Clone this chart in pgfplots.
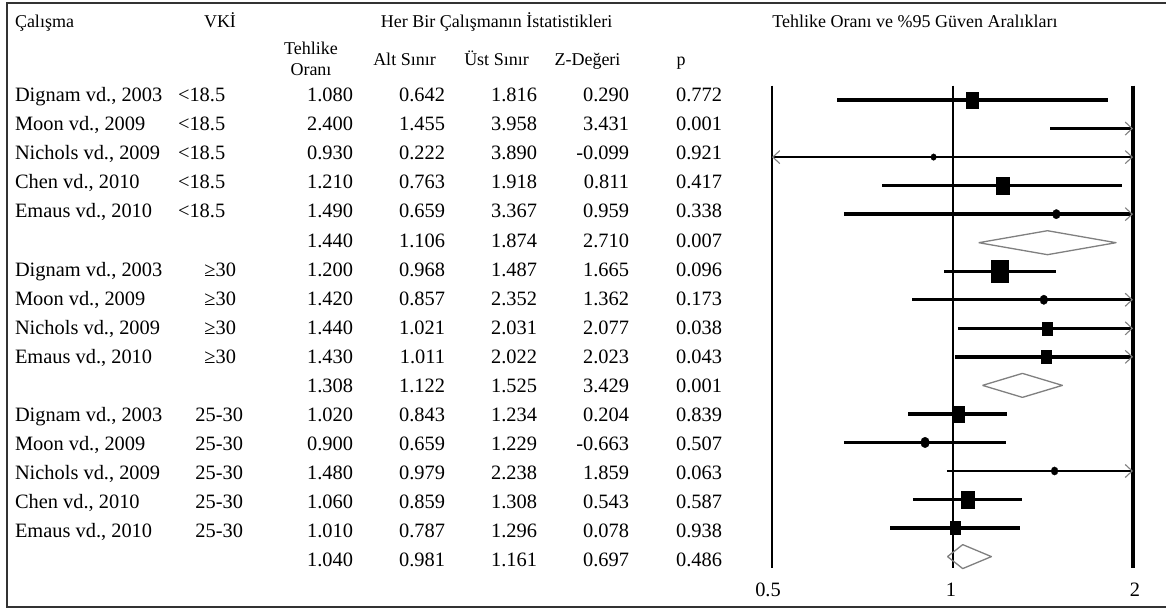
\documentclass[border=0pt]{standalone}
\usepackage{pgfplots}
\pgfplotsset{compat=1.18}
\usepackage{pgfplotstable}
\usepackage{fontspec}
\setmainfont{Liberation Serif}
\usetikzlibrary{arrows.meta}

% squares: hazard ratio, row, half width (bp)
\pgfplotstableread{
hr row hs
1.08 1 6
1.21 4 6.5
1.20 7 8.5
1.44 9 5
1.43 10 5
1.02 12 6
1.06 15 6.5
1.01 16 5
}\sqdata
% small round markers: hazard ratio, row, radius
\pgfplotstableread{
hr row rs
0.93 3 2.8
1.49 5 4
1.42 8 4
0.90 13 4.5
1.48 14 3.5
}\dotdata

\tikzset{
  bodyfont/.style={font=\fontsize{20.4bp}{24bp}\selectfont},
  headfont/.style={font=\fontsize{18bp}{22bp}\selectfont},
  ci/.style={line width=3.4bp, black},
  cithin/.style={line width=2.6bp, black},
  tip/.style={-{Straight Barb[length=7bp,width=13bp,line width=1.1bp,color=gray]}},
  tips/.style={{Straight Barb[length=7bp,width=13bp,line width=1.1bp,color=gray]}-{Straight Barb[length=7bp,width=13bp,line width=1.1bp,color=gray]}},
  dia/.style={line width=1.3bp, black!50, line join=round},
}

\newcommand\trow[7]{%
  \pgfmathsetmacro\yy{-(101.7+(#1-1)*29.06)}%
  \node[bodyfont,anchor=base west] at (15bp,\yy bp) {#2};
  \node[bodyfont,anchor=base east] at (353bp,\yy bp) {#3};
  \node[bodyfont,anchor=base east] at (445bp,\yy bp) {#4};
  \node[bodyfont,anchor=base east] at (537bp,\yy bp) {#5};
  \node[bodyfont,anchor=base east] at (629bp,\yy bp) {#6};
  \node[bodyfont,anchor=base east] at (722bp,\yy bp) {#7};%
}
\newcommand\vki[3]{% row, anchor, x
  \pgfmathsetmacro\yy{-(101.7+(#1-1)*29.06)}%
  \node[bodyfont,anchor=base #2] at (#3bp,\yy bp) {\csname vkitext\endcsname};%
}

\begin{document}
\begin{tikzpicture}[every node/.style={inner sep=0pt, outer sep=0pt}]
\useasboundingbox (0,0) rectangle (1166bp,-610bp);
\fill[white] (0,0) rectangle (1166bp,-610bp);
% frame
\draw[line width=1.6bp, black!80] (1166bp,-3bp) -- (7bp,-3bp) -- (7bp,-607bp) -- (1166bp,-607bp);

% headers
\node[headfont,anchor=base west] at (15bp,-27.5bp) {Çalışma};
\node[headfont,anchor=base] at (220bp,-27.5bp) {VKİ};
\node[headfont,anchor=base] at (496.5bp,-27.5bp) {Her Bir Çalışmanın İstatistikleri};
\node[headfont,anchor=base] at (915bp,-27.5bp) {Tehlike Oranı ve \%95 Güven Aralıkları};
\node[headfont,anchor=base] at (311bp,-54bp) {Tehlike};
\node[headfont,anchor=base] at (311bp,-75bp) {Oranı};
\node[headfont,anchor=base] at (404.5bp,-65bp) {Alt Sınır};
\node[headfont,anchor=base] at (496.5bp,-65bp) {Üst Sınır};
\node[headfont,anchor=base] at (587.5bp,-65bp) {Z-Değeri};
\node[headfont,anchor=base] at (681bp,-65bp) {p};

% table rows
\trow{1}{Dignam vd., 2003}{1.080}{0.642}{1.816}{0.290}{0.772}
\trow{2}{Moon vd., 2009}{2.400}{1.455}{3.958}{3.431}{0.001}
\trow{3}{Nichols vd., 2009}{0.930}{0.222}{3.890}{-0.099}{0.921}
\trow{4}{Chen vd., 2010}{1.210}{0.763}{1.918}{0.811}{0.417}
\trow{5}{Emaus vd., 2010}{1.490}{0.659}{3.367}{0.959}{0.338}
\trow{6}{}{1.440}{1.106}{1.874}{2.710}{0.007}
\trow{7}{Dignam vd., 2003}{1.200}{0.968}{1.487}{1.665}{0.096}
\trow{8}{Moon vd., 2009}{1.420}{0.857}{2.352}{1.362}{0.173}
\trow{9}{Nichols vd., 2009}{1.440}{1.021}{2.031}{2.077}{0.038}
\trow{10}{Emaus vd., 2010}{1.430}{1.011}{2.022}{2.023}{0.043}
\trow{11}{}{1.308}{1.122}{1.525}{3.429}{0.001}
\trow{12}{Dignam vd., 2003}{1.020}{0.843}{1.234}{0.204}{0.839}
\trow{13}{Moon vd., 2009}{0.900}{0.659}{1.229}{-0.663}{0.507}
\trow{14}{Nichols vd., 2009}{1.480}{0.979}{2.238}{1.859}{0.063}
\trow{15}{Chen vd., 2010}{1.060}{0.859}{1.308}{0.543}{0.587}
\trow{16}{Emaus vd., 2010}{1.010}{0.787}{1.296}{0.078}{0.938}
\trow{17}{}{1.040}{0.981}{1.161}{0.697}{0.486}

% VKI column
\def\vkitext{<18.5}
\foreach \r in {1,...,5} {\vki{\r}{west}{178}}
\def\vkitext{≥30}
\foreach \r in {7,...,10} {\vki{\r}{east}{236}}
\def\vkitext{25-30}
\foreach \r in {12,...,16} {\vki{\r}{east}{243}}

\begin{axis}[
  at={(952.5bp,-326.87bp)}, anchor=center,
  scale only axis, width=361bp, height=482.27bp,
  xmode=log, xmin=0.5, xmax=2,
  ymin=0.5, ymax=17.4, y dir=reverse,
  axis lines=none, clip=false,
]
% reference lines
\addplot[line width=2.4bp, black] coordinates {(0.5,0.5) (0.5,17.4)};
\addplot[line width=2bp, black] coordinates {(1,0.5) (1,17.4)};
\addplot[line width=3.4bp, black] coordinates {(2,0.5) (2,17.4)};

% confidence intervals
\addplot[ci] coordinates {(0.642,1) (1.816,1)};
\addplot[cithin,tip] coordinates {(1.455,2) (2,2)};
\addplot[cithin,tips] coordinates {(0.5,3) (2,3)};
\addplot[ci] coordinates {(0.763,4) (1.918,4)};
\addplot[ci,tip] coordinates {(0.659,5) (2,5)};
\addplot[ci] coordinates {(0.968,7) (1.487,7)};
\addplot[ci,tip] coordinates {(0.857,8) (2,8)};
\addplot[ci,tip] coordinates {(1.021,9) (2,9)};
\addplot[ci,tip] coordinates {(1.011,10) (2,10)};
\addplot[ci] coordinates {(0.843,12) (1.234,12)};
\addplot[ci] coordinates {(0.659,13) (1.229,13)};
\addplot[cithin,tip] coordinates {(0.979,14) (2,14)};
\addplot[ci] coordinates {(0.859,15) (1.308,15)};
\addplot[ci] coordinates {(0.787,16) (1.296,16)};

% pooled estimates (diamonds)
\addplot[dia] coordinates {(1.106,6) (1.44,5.58) (1.874,6) (1.44,6.42) (1.106,6)};
\addplot[dia] coordinates {(1.122,11) (1.308,10.58) (1.525,11) (1.308,11.42) (1.122,11)};
\addplot[dia] coordinates {(0.981,17) (1.04,16.58) (1.161,17) (1.04,17.42) (0.981,17)};

% study markers
\addplot[scatter, only marks, mark=square*, point meta=explicit,
  scatter/use mapped color={draw=black,fill=black},
  visualization depends on={\thisrow{hs} \as \ms},
  scatter/@pre marker code/.append style={/tikz/mark size=\ms},
  mark options={yscale=1.3, line width=0.2pt}]
  table[x=hr, y=row, meta=hs] {\sqdata};
\addplot[scatter, only marks, mark=*, point meta=explicit,
  scatter/use mapped color={draw=black,fill=black},
  visualization depends on={\thisrow{rs} \as \rs},
  scatter/@pre marker code/.append style={/tikz/mark size=\rs},
  mark options={yscale=1.2, line width=0.2pt}]
  table[x=hr, y=row, meta=rs] {\dotdata};

% tick labels
\node[bodyfont,anchor=base] at (axis cs:0.5,18.4) {\hspace*{-8bp}0.5};
\node[bodyfont,anchor=base] at (axis cs:1,18.4) {\hspace*{-3bp}1};
\node[bodyfont,anchor=base] at (axis cs:2,18.4) {\hspace*{4bp}2};
\end{axis}
\end{tikzpicture}
\end{document}
